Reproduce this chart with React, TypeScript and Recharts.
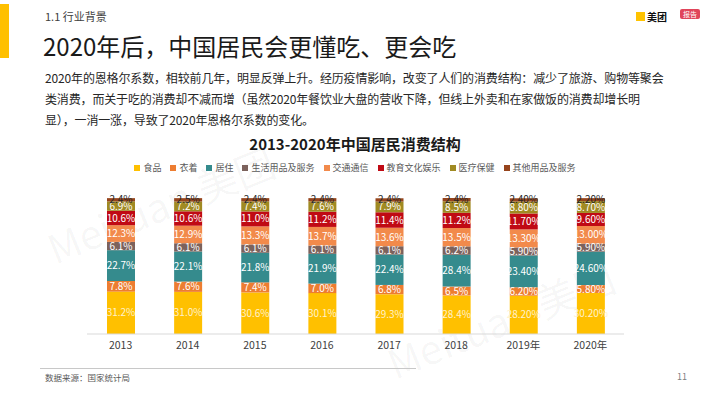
import { Bar, BarChart, LabelList, Legend, XAxis, YAxis } from "recharts";

const FONT = '"Noto Sans CJK SC", "Noto Sans", sans-serif';

// 2013-2020 中国居民消费结构 (%)
const years = ["2013", "2014", "2015", "2016", "2017", "2018", "2019年", "2020年"];
const food = [31.2, 31.0, 30.6, 30.1, 29.3, 28.4, 28.2, 30.2];
const clothing = [7.8, 7.6, 7.4, 7.0, 6.8, 6.5, 6.2, 5.8];
const housing = [22.7, 22.1, 21.8, 21.9, 22.4, 23.4, 23.4, 24.6];
const dailyGoods = [6.1, 6.1, 6.1, 6.1, 6.1, 6.2, 5.9, 5.9];
const transport = [12.3, 12.9, 13.3, 13.7, 13.6, 13.5, 13.3, 13.0];
const education = [10.6, 10.6, 11.0, 11.2, 11.4, 11.2, 11.7, 9.6];
const medical = [6.9, 7.2, 7.4, 7.6, 7.9, 8.5, 8.8, 8.7];
const others = [2.4, 2.5, 2.4, 2.4, 2.4, 2.4, 2.4, 2.2];
// 2019/2020 labels are printed with two decimals
const labelDecimals = [1, 1, 1, 1, 1, 1, 2, 2];
// label text as printed on the slide where it differs from the value
const labelOverrides: Record<string, string> = { "2018-housing": "28.4%" };

const SERIES = [
  { key: "food", name: "食品", values: food, color: "#FFC000", text: "#FFF2CC" },
  { key: "clothing", name: "衣着", values: clothing, color: "#ED7D31", text: "#ffffff" },
  { key: "housing", name: "居住", values: housing, color: "#358B8D", text: "#ffffff" },
  { key: "dailyGoods", name: "生活用品及服务", values: dailyGoods, color: "#7C625C", text: "#ffffff" },
  { key: "transport", name: "交通通信", values: transport, color: "#F28A4B", text: "#ffffff" },
  { key: "education", name: "教育文化娱乐", values: education, color: "#C00A14", text: "#ffffff" },
  { key: "medical", name: "医疗保健", values: medical, color: "#A08A22", text: "#ffffff" },
  { key: "others", name: "其他用品及服务", values: others, color: "#96441C", text: "#262626" },
];

const data = years.map((year, i) => {
  const row: Record<string, string | number> = { year };
  SERIES.forEach((s) => {
    row[s.key] = s.values[i];
    row[`${s.key}Label`] =
      labelOverrides[`${year}-${s.key}`] ?? `${s.values[i].toFixed(labelDecimals[i])}%`;
  });
  return row;
});

function LegendContent() {
  return (
    <div
      style={{
        display: "flex",
        justifyContent: "center",
        gap: 9,
        fontSize: 9,
        color: "#595959",
        fontFamily: FONT,
      }}
    >
      {SERIES.map((s) => (
        <span key={s.key} style={{ display: "flex", alignItems: "center" }}>
          <span
            style={{ width: 6, height: 6, background: s.color, marginRight: 3, display: "inline-block" }}
          />
          {s.name}
        </span>
      ))}
    </div>
  );
}

const watermark = {
  position: "absolute" as const,
  fontSize: 40,
  color: "rgba(0,0,0,0.04)",
  fontFamily: FONT,
  transform: "rotate(-22deg)",
  whiteSpace: "nowrap" as const,
};

export default function App() {
  return (
    <div
      style={{
        position: "absolute",
        left: 0,
        top: 0,
        width: 710,
        height: 399,
        background: "#fff",
        overflow: "hidden",
        fontFamily: FONT,
      }}
    >
      <div style={{ position: "absolute", left: 0, top: 4, width: 9, height: 54, background: "#FFC000" }} />
      <div style={{ position: "absolute", left: 45, top: 8, fontSize: 11, color: "#404040" }}>1.1 行业背景</div>
      <div style={{ position: "absolute", left: 43, top: 28, fontSize: 24, color: "#1a1a1a", whiteSpace: "nowrap" }}>
        2020年后，中国居民会更懂吃、更会吃
      </div>

      {/* logos */}
      <div style={{ position: "absolute", left: 636, top: 9, display: "flex", alignItems: "center", gap: 2 }}>
        <span style={{ width: 9, height: 9, background: "#FFC300", display: "inline-block" }} />
        <span style={{ fontSize: 10, fontWeight: 700, color: "#111" }}>美团</span>
      </div>
      <div
        style={{
          position: "absolute",
          left: 680,
          top: 9,
          width: 20,
          height: 10,
          borderRadius: 2,
          background: "#E0455A",
          color: "#fff",
          fontSize: 7,
          lineHeight: "10px",
          textAlign: "center",
        }}
      >
        报告
      </div>

      <div
        style={{
          position: "absolute",
          left: 45,
          top: 67,
          fontSize: 12,
          lineHeight: "21px",
          color: "#262626",
          letterSpacing: -0.15,
        }}
      >
        <div style={{ whiteSpace: "nowrap" }}>
          2020年的恩格尔系数，相较前几年，明显反弹上升。经历疫情影响，改变了人们的消费结构：减少了旅游、购物等聚会
        </div>
        <div style={{ whiteSpace: "nowrap" }}>
          类消费，而关于吃的消费却不减而增（虽然2020年餐饮业大盘的营收下降，但线上外卖和在家做饭的消费却增长明
        </div>
        <div style={{ whiteSpace: "nowrap" }}>显），一消一涨，导致了2020年恩格尔系数的变化。</div>
      </div>

      <div style={{ ...watermark, left: 40, top: 175 }}>Meituan 美团</div>
      <div style={{ ...watermark, left: 380, top: 290 }}>Meituan 美团</div>

      <div
        style={{
          position: "absolute",
          left: 0,
          top: 133,
          width: 710,
          textAlign: "center",
          fontSize: 15,
          fontWeight: 700,
          color: "#1a1a1a",
        }}
      >
        2013-2020年中国居民消费结构
      </div>

      <div style={{ position: "absolute", left: 0, top: 150 }}>
        <BarChart
          width={710}
          height={215}
          data={data}
          margin={{ top: 35, right: 86, left: 87, bottom: 0 }}
          barSize={28}
        >
          <XAxis
            dataKey="year"
            height={31}
            interval={0}
            tickLine={false}
            axisLine={{ stroke: "#d9d9d9" }}
            tick={{ fontSize: 10.5, fill: "#404040", fontFamily: FONT }}
          />
          <YAxis hide domain={[0, 100]} />
          <Legend verticalAlign="top" content={<LegendContent />} wrapperStyle={{ top: 11, left: 0, width: 710 }} />
          {SERIES.map((s) => (
            <Bar key={s.key} dataKey={s.key} name={s.name} stackId="a" fill={s.color} isAnimationActive={false}>
              <LabelList
                dataKey={`${s.key}Label`}
                position="center"
                fill={s.text}
                fontSize={10}
                fontFamily={FONT}
              />
            </Bar>
          ))}
        </BarChart>
      </div>

      <div style={{ position: "absolute", left: 40, top: 368, width: 376, height: 1, background: "#c8c8c8" }} />
      <div style={{ position: "absolute", left: 45, top: 371, fontSize: 8.5, color: "#595959" }}>数据来源：国家统计局</div>
      <div style={{ position: "absolute", left: 677, top: 370, fontSize: 9, color: "#7f7f7f" }}>11</div>
    </div>
  );
}
